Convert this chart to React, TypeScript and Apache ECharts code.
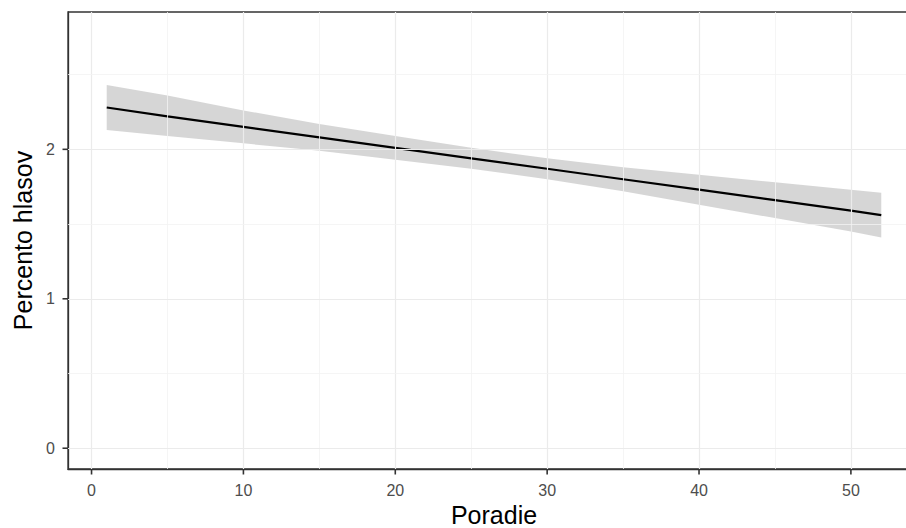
import React, { useEffect, useRef } from "react";
import * as echarts from "echarts";

const poradie = [1, 5, 10, 15, 20, 25, 30, 35, 40, 45, 50, 52];
const fit = [2.28, 2.22, 2.15, 2.08, 2.01, 1.94, 1.87, 1.8, 1.73, 1.66, 1.59, 1.56];
const upper = [2.43, 2.36, 2.26, 2.17, 2.09, 2.01, 1.94, 1.88, 1.83, 1.78, 1.73, 1.71];
const lower = [2.13, 2.09, 2.04, 1.99, 1.93, 1.87, 1.8, 1.72, 1.63, 1.54, 1.45, 1.41];

const xTicks = [0, 10, 20, 30, 40, 50];
const xMinor = [5, 15, 25, 35, 45];
const yTicks = [0, 1, 2];
const yMinor = [0.5, 1.5, 2.5];

const X_MIN = -1.55;
const X_MAX = 54.55;
const Y_MIN = -0.139;
const Y_MAX = 2.919;

const FONT = "'Liberation Sans', Arial, sans-serif";

export default function App() {
  const ref = useRef<HTMLDivElement>(null);
  useEffect(() => {
    if (!ref.current) return;
    const chart = echarts.init(ref.current, undefined, { renderer: "svg" });
    const major = { color: "#ebebeb", width: 1.2, type: "solid" as const };
    const minor = { color: "#f2f2f2", width: 0.8, type: "solid" as const };
    const gridLines = [
      ...xTicks.map((v) => ({ xAxis: v, lineStyle: major })),
      ...xMinor.map((v) => ({ xAxis: v, lineStyle: minor })),
      ...yTicks.map((v) => ({ yAxis: v, lineStyle: major })),
      ...yMinor.map((v) => ({ yAxis: v, lineStyle: minor })),
    ];
    const axisLine = { show: true, onZero: false, lineStyle: { color: "#333333", width: 1.3 } };
    const tickStyle = { stroke: "#333333", lineWidth: 1.6 };
    chart.setOption({
      animation: false,
      backgroundColor: "#ffffff",
      grid: {
        left: 68,
        top: 12,
        width: 852,
        height: 457,
        outerBoundsMode: "none",
        containLabel: false,
        show: true,
        borderColor: "#333333",
        borderWidth: 1.3,
        backgroundColor: "transparent",
        z: 5,
      },
      xAxis: {
        type: "value",
        min: X_MIN,
        max: X_MAX,
        name: "Poradie",
        nameLocation: "middle",
        nameGap: 32,
        nameTextStyle: { fontFamily: FONT, fontSize: 25, color: "#000000" },
        axisLine,
        axisTick: { show: false },
        axisLabel: {
          customValues: xTicks,
          margin: 13,
          fontFamily: FONT,
          fontSize: 16,
          color: "#4d4d4d",
        },
        splitLine: { show: false },
      },
      yAxis: {
        type: "value",
        min: Y_MIN,
        max: Y_MAX,
        name: "Percento hlasov",
        nameLocation: "middle",
        nameGap: 31,
        nameTextStyle: { fontFamily: FONT, fontSize: 25, color: "#000000" },
        axisLine,
        axisTick: { show: false },
        axisLabel: {
          customValues: yTicks,
          margin: 13,
          fontFamily: FONT,
          fontSize: 16,
          color: "#4d4d4d",
        },
        splitLine: { show: false },
      },
      series: [
        {
          type: "line",
          data: [],
          z: 0,
          silent: true,
          markLine: {
            silent: true,
            symbol: ["none", "none"],
            label: { show: false },
            data: gridLines,
          },
        },
        {
          type: "custom",
          z: 1,
          silent: true,
          clip: true,
          data: [[poradie[0], fit[0]]],
          renderItem: (_params: any, api: any) => {
            const pts: number[][] = [];
            for (let i = 0; i < poradie.length; i++) pts.push(api.coord([poradie[i], upper[i]]));
            for (let i = poradie.length - 1; i >= 0; i--) pts.push(api.coord([poradie[i], lower[i]]));
            return {
              type: "polygon",
              shape: { points: pts },
              style: { fill: "rgba(153,153,153,0.4)", stroke: "none" },
            };
          },
        },
        {
          type: "line",
          z: 2,
          silent: true,
          showSymbol: false,
          data: poradie.map((x, i) => [x, fit[i]]),
          lineStyle: { color: "#000000", width: 2.2 },
        },
        {
          type: "custom",
          z: 10,
          silent: true,
          clip: false,
          data: xTicks.map((v) => [v, Y_MIN]),
          renderItem: (_params: any, api: any) => {
            const p = api.coord([api.value(0), api.value(1)]);
            return {
              type: "line",
              shape: { x1: p[0], y1: p[1], x2: p[0], y2: p[1] + 5.5 },
              style: tickStyle,
            };
          },
        },
        {
          type: "custom",
          z: 10,
          silent: true,
          clip: false,
          data: yTicks.map((v) => [X_MIN, v]),
          renderItem: (_params: any, api: any) => {
            const p = api.coord([api.value(0), api.value(1)]);
            return {
              type: "line",
              shape: { x1: p[0] - 5.5, y1: p[1], x2: p[0], y2: p[1] },
              style: tickStyle,
            };
          },
        },
      ],
    });
    return () => chart.dispose();
  }, []);
  return (
    <div
      ref={ref}
      style={{ position: "fixed", left: 0, top: 0, width: 906, height: 528, background: "#fff" }}
    />
  );
}
